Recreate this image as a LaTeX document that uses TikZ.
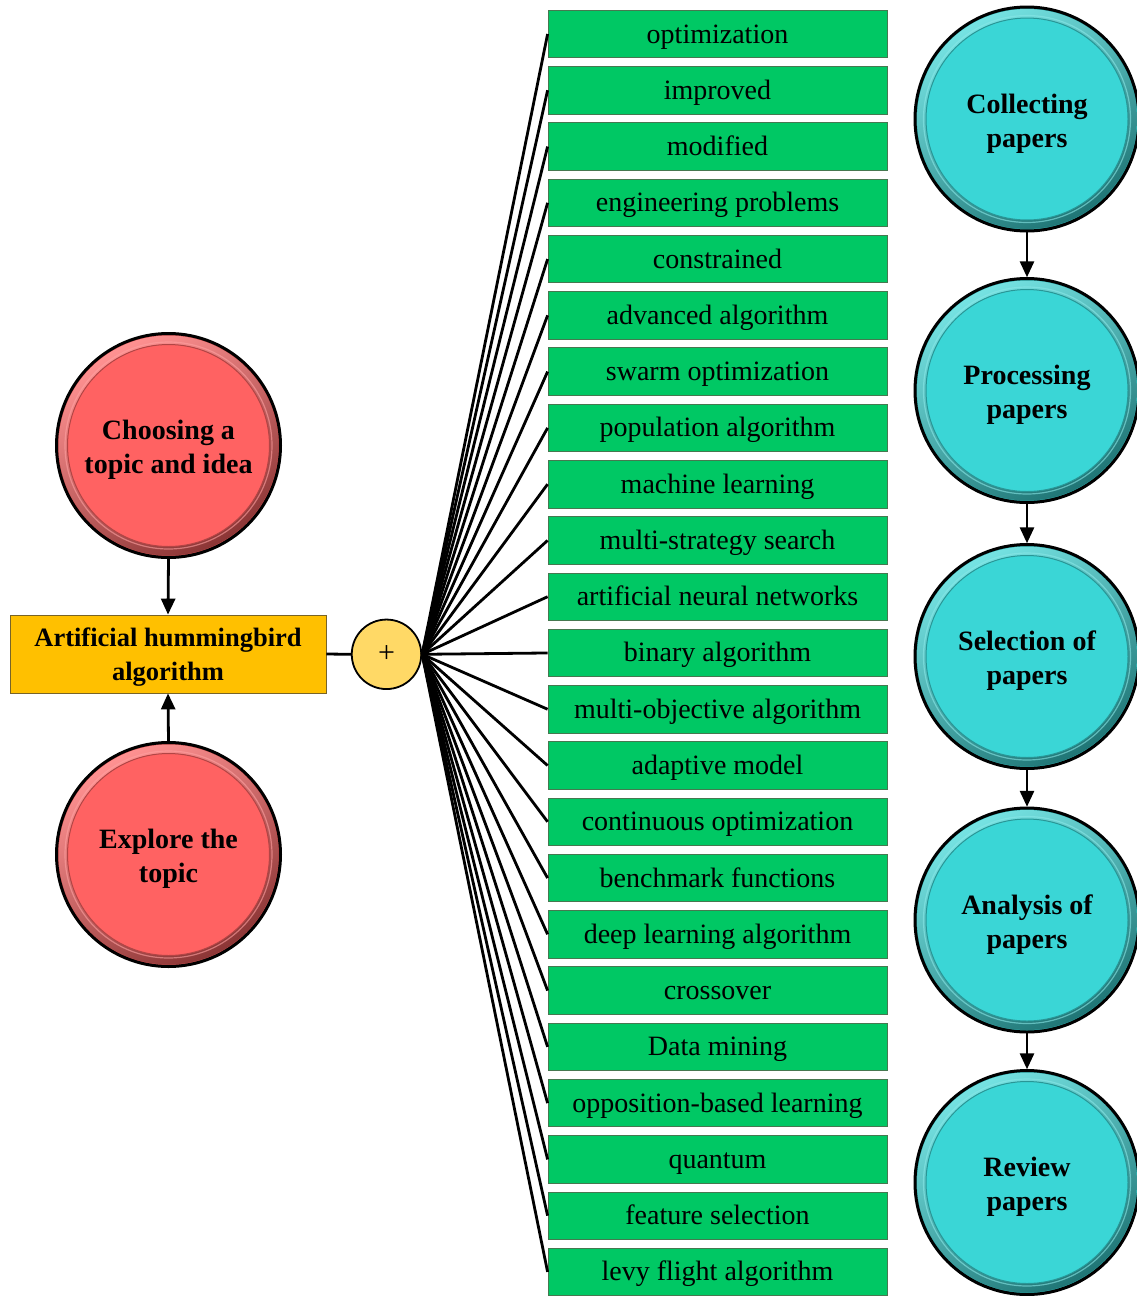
\documentclass[tikz,border=0pt]{standalone}
\usepackage{fontspec}
\setmainfont{Liberation Serif}
\usetikzlibrary{arrows.meta}

\definecolor{kwgreen}{RGB}{0,200,100}
\definecolor{kwedge}{RGB}{70,120,80}
\definecolor{hubfill}{RGB}{255,192,0}
\definecolor{hubedge}{RGB}{120,100,40}
\definecolor{plusfill}{RGB}{255,217,102}
\definecolor{stagered}{RGB}{255,98,98}
\definecolor{stageteal}{RGB}{58,214,214}

\tikzset{
  keyword/.style={draw=kwedge, line width=0.8pt, fill=kwgreen,
    minimum width=339pt, minimum height=47.5pt, inner sep=0pt,
    text height=24pt, text depth=6pt,
    font=\fontsize{28}{34}\selectfont},
  hubbox/.style={draw=hubedge, line width=0.8pt, fill=hubfill,
    minimum width=316pt, minimum height=78pt, inner sep=0pt},
  hublabel/.style={align=center, inner sep=0pt,
    font=\fontsize{26.5}{34}\selectfont\bfseries},
  plusnode/.style={circle, draw=black, line width=1.8pt, fill=plusfill,
    minimum size=69.5pt, inner sep=0pt, font=\fontsize{30}{30}\selectfont},
  stage/.style={circle, minimum size=226pt, inner sep=0pt},
  stagelabel/.style={align=center, inner sep=0pt,
    font=\fontsize{28}{34}\selectfont\bfseries},
  spoke/.style={draw=black, line width=2.8pt},
  flow/.style={draw=black, line width=2.8pt,
    -{Triangle[width=14pt,length=16pt]}},
}

% a bevelled disc with a label: name, centre, colour, text
\newcommand\stagedisc[4]{%
  \fill[#3!80!black] (#2) circle (112);
  \shade[even odd rule, top color=#3!70!white, bottom color=#3!55!black,
    shading angle=30] (#2) circle (110) (#2) circle (101);
  \fill[#3] (#2) circle (101);
  \draw[#3!70!black, line width=1pt] (#2) circle (101);
  \draw[#3!60!white, line width=1.2pt, opacity=.6] (#2) circle (103.5);
  \draw[black, line width=3pt] (#2) circle (112);
  \node[stage] (#1) at (#2) {};
  \node[stagelabel] (#1txt) at ([yshift=-4.5pt]#1.center) {#4};
}

\begin{document}
\begin{tikzpicture}[x=1pt, y=-1pt]
\useasboundingbox (0,0) rectangle (1137,1296);

% keyword boxes
\foreach \w [count=\i] in {optimization, improved, modified,
  engineering problems, constrained, advanced algorithm, swarm optimization,
  population algorithm, machine learning, multi-strategy search,
  artificial neural networks, binary algorithm, multi-objective algorithm,
  adaptive model, continuous optimization, benchmark functions,
  deep learning algorithm, crossover, Data mining,
  opposition-based learning, quantum, feature selection,
  levy flight algorithm}
  \node[keyword] (g\i) at (717.5, {34 + 56.27*(\i-1)}) {\w};

% central topic and connector
\node[hubbox] (hub) at (168,654) {};
\node[hublabel] (hubtxt) at ([yshift=-3pt]hub.center)
  {Artificial hummingbird\\algorithm};
\node[plusnode] (plus) at (386.5,654.3) {+};
\draw[spoke] (hub.east) -- (plus.west);
\foreach \i in {1,...,23}
  \draw[spoke] (plus.east) -- (g\i.west);

% left discs
\stagedisc{choose}{168.5,445.5}{stagered}{Choosing a\\topic and idea}
\stagedisc{explore}{168.5,854.5}{stagered}{Explore the\\topic}
\draw[flow] (choose.south) -- (hub.north);
\draw[flow] (explore.north) -- (hub.south);

% right discs: review workflow
\stagedisc{collect}{1027,119}{stageteal}{Collecting\\papers}
\stagedisc{process}{1027,390.5}{stageteal}{Processing\\papers}
\stagedisc{select}{1027,656.5}{stageteal}{Selection of\\papers}
\stagedisc{analyse}{1027,920}{stageteal}{Analysis of\\papers}
\stagedisc{review}{1027,1182.5}{stageteal}{Review\\papers}
\draw[flow] (collect.south) -- (process.north);
\draw[flow] (process.south) -- (select.north);
\draw[flow] (select.south) -- (analyse.north);
\draw[flow] (analyse.south) -- (review.north);
\end{tikzpicture}
\end{document}
